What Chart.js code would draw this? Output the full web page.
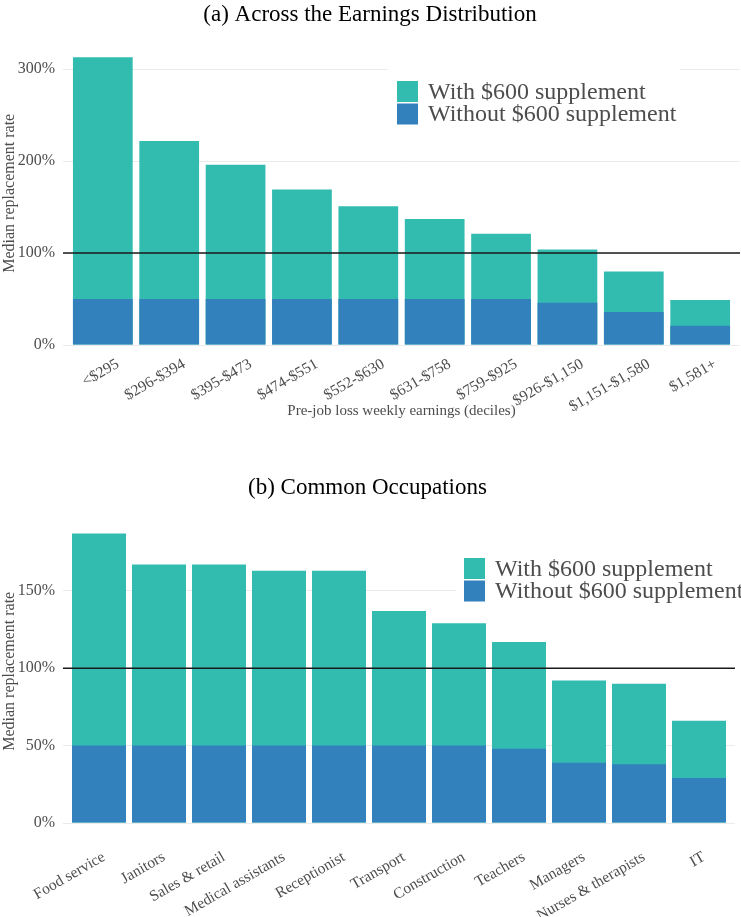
<!DOCTYPE html>
<html>
<head>
<meta charset="utf-8">
<script src="https://cdn.jsdelivr.net/npm/chart.js@4.4.0/dist/chart.umd.min.js"></script>
<style>
  html, body { margin: 0; padding: 0; background: #fff; }
  canvas { display: block; }
</style>
</head>
<body>
<canvas id="chartA" width="741" height="450"></canvas>
<canvas id="chartB" width="741" height="467"></canvas>
<script>
// (a) earnings deciles
const decileLabels = ["<$295", "$296-$394", "$395-$473", "$474-$551", "$552-$630",
    "$631-$758", "$759-$925", "$926-$1,150", "$1,151-$1,580", "$1,581+"];
const decileWith = [313, 222, 196, 169, 151, 137, 121, 104, 80, 49];
const decileWithout = [50, 50, 50, 50, 50, 50, 50, 46, 36, 21];

// (b) common occupations
const occLabels = ["Food service", "Janitors", "Sales & retail", "Medical assistants", "Receptionist",
    "Transport", "Construction", "Teachers", "Managers", "Nurses & therapists", "IT"];
const occWith = [187, 167, 167, 163, 163, 137, 129, 117, 92, 90, 66];
const occWithout = [50, 50, 50, 50, 50, 50, 50, 48, 39, 38, 29];

const seriesNames = ["With $600 supplement", "Without $600 supplement"];

const teal = "#32bcb0";
const blue = "#3281bd";
const grey = "#4d4d4d";
const serif = "'Liberation Serif', 'Times New Roman', serif";

// black line at 100%
const refLine = {
    id: "refLine",
    afterDatasetsDraw(chart) {
        const { ctx, chartArea } = chart;
        const y = chart.scales.y.getPixelForValue(100);
        ctx.save();
        ctx.strokeStyle = "#1a1a1a";
        ctx.lineWidth = 1.5;
        ctx.beginPath();
        ctx.moveTo(chartArea.left, y);
        ctx.lineTo(chartArea.right, y);
        ctx.stroke();
        ctx.restore();
    }
};

// legend sitting inside the plot, ggplot style
const insideLegend = {
    id: "insideLegend",
    afterDraw(chart, args, opts) {
        const ctx = chart.ctx;
        const bg = opts.bg;
        ctx.save();
        ctx.fillStyle = "#fff";
        ctx.fillRect(bg[0], bg[1], bg[2] - bg[0], bg[3] - bg[1]);
        ctx.font = "24px " + serif;
        ctx.textBaseline = "middle";
        chart.data.datasets.forEach((ds, i) => {
            const y = opts.y + i * opts.step;
            ctx.fillStyle = ds.backgroundColor;
            ctx.fillRect(opts.x, y, opts.box, opts.box);
            ctx.fillStyle = grey;
            ctx.fillText(ds.label, opts.x + opts.box + 10, y + opts.box / 2 + 1);
        });
        ctx.restore();
    }
};

function makeChart(id, labels, withVals, withoutVals, cfg) {
    const n = labels.length;
    return new Chart(document.getElementById(id), {
        type: "bar",
        data: {
            datasets: [
                {
                    label: seriesNames[0],
                    data: withVals.map((v, i) => ({ x: i, y: v })),
                    backgroundColor: teal,
                    order: 2
                },
                {
                    label: seriesNames[1],
                    data: withoutVals.map((v, i) => ({ x: i, y: v })),
                    backgroundColor: blue,
                    order: 1
                }
            ]
        },
        options: {
            responsive: false,
            animation: false,
            datasets: { bar: { grouped: false, barPercentage: 0.9, categoryPercentage: 1.0 } },
            layout: { padding: { right: cfg.padRight } },
            plugins: {
                legend: { display: false },
                tooltip: { enabled: false },
                title: {
                    display: true,
                    text: cfg.title,
                    color: "#000",
                    font: { family: serif, size: 23, weight: "normal", lineHeight: 1.2 },
                    padding: cfg.titlePad
                },
                insideLegend: cfg.legend
            },
            scales: {
                x: {
                    type: "linear",
                    offset: false,
                    min: -0.6,
                    max: n - 1 + 0.6,
                    grid: { display: false, drawTicks: false, offset: false },
                    border: { display: false },
                    afterBuildTicks: (scale) => {
                        scale.ticks = labels.map((l, i) => ({ value: i }));
                    },
                    afterFit: (scale) => { scale.height = cfg.xHeight; },
                    ticks: {
                        autoSkip: false,
                        minRotation: 30,
                        maxRotation: 30,
                        padding: cfg.tickPad,
                        labelOffset: cfg.tickShift,
                        color: grey,
                        font: { family: serif, size: 15.5 },
                        callback: (v) => labels[v]
                    },
                    title: {
                        display: !!cfg.xTitle,
                        text: cfg.xTitle,
                        color: grey,
                        font: { family: serif, size: 15 },
                        padding: { top: 0, bottom: 30 }
                    }
                },
                y: {
                    min: 0,
                    max: cfg.yMax,
                    grid: { color: "#ebebeb", lineWidth: 1, drawTicks: false },
                    border: { display: false },
                    afterBuildTicks: (scale) => {
                        scale.ticks = scale.ticks.filter(t => t.value % cfg.yStep === 0);
                    },
                    afterFit: (scale) => { scale.width = 63; },
                    ticks: {
                        stepSize: cfg.yStep,
                        padding: 8,
                        color: grey,
                        font: { family: serif, size: 16 },
                        callback: (v) => v + "%"
                    },
                    title: {
                        display: true,
                        text: "Median replacement rate",
                        color: grey,
                        font: { family: serif, size: 16 },
                        padding: 0
                    }
                }
            }
        },
        plugins: [refLine, insideLegend]
    });
}

makeChart("chartA", decileLabels, decileWith, decileWithout, {
    title: "(a) Across the Earnings Distribution",
    titlePad: { top: 1, bottom: 13 },
    yMax: 330,
    yStep: 100,
    xHeight: 105,
    tickPad: 10,
    tickShift: 15,
    xTitle: "Pre-job loss weekly earnings (deciles)",
    padRight: 1,
    legend: { x: 397, y: 81, box: 21, step: 22.5, bg: [388, 60, 680, 132] }
});

makeChart("chartB", occLabels, occWith, occWithout, {
    title: "(b) Common Occupations",
    titlePad: { top: 24, bottom: 18 },
    yMax: 196,
    yStep: 50,
    xHeight: 94,
    tickPad: 25,
    tickShift: 5,
    xTitle: "",
    padRight: 6,
    legend: { x: 464, y: 108, box: 21, step: 22.5, bg: [456, 98, 741, 161] }
});
</script>
</body>
</html>
